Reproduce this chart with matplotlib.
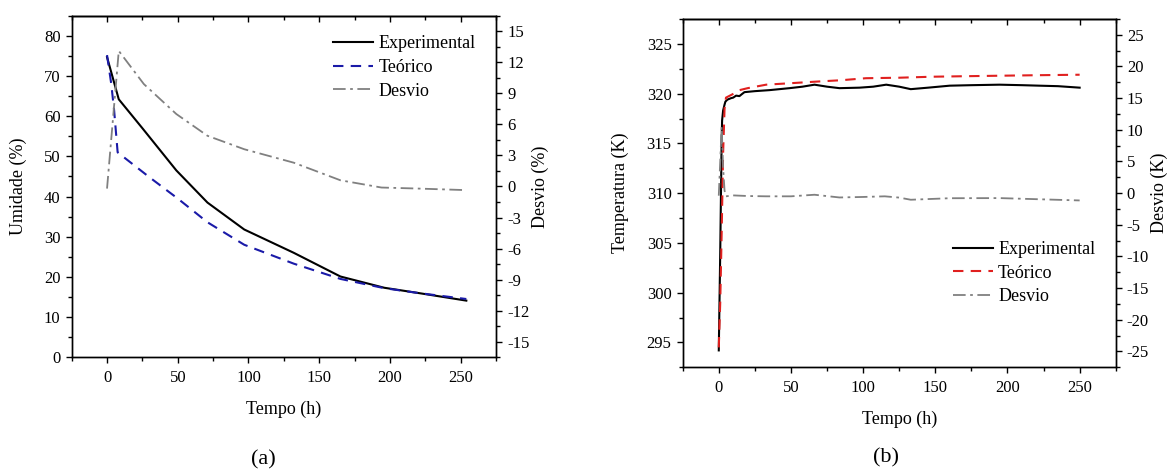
import matplotlib
matplotlib.use('Agg')
import matplotlib.pyplot as plt
from matplotlib.ticker import MultipleLocator, NullFormatter

plt.rcParams['font.family'] = ['Liberation Serif', 'DejaVu Serif']
plt.rcParams['axes.linewidth'] = 1.0
plt.rcParams['axes.unicode_minus'] = False

# (a) umidade
t_exp_a = [0, 8.3, 25, 49, 71, 97, 132, 165, 196, 220, 254]
u_exp = [74.7, 64.2, 57, 46.5, 38.5, 31.8, 26, 20.1, 17.3, 16, 14.1]
t_teo_a = [0, 3, 5, 7.5, 14, 30, 50, 71, 97, 132, 165, 196, 220, 254]
u_teo = [75.2, 68, 61.5, 51, 49.2, 44.8, 39.5, 33.6, 28, 23.3, 19.5, 17.2, 16, 14.5]
t_desv_a = [0, 8.3, 26, 49, 71, 97, 132, 165, 194, 220, 254]
d_a = [-0.2, 13.1, 9.9, 7.0, 4.9, 3.6, 2.3, 0.6, -0.1, -0.2, -0.35]

# (b) temperatura
t_exp_b = [0, 1, 2, 2.3, 3, 4, 4.6, 6, 8.6, 10, 12, 14.3, 16, 17.8, 25, 35, 49, 58, 66.3, 75, 83.6,
           97.5, 107, 116, 125, 133, 145, 160, 175, 194.5, 210, 222, 235, 250]
temp_exp = [294.2, 304, 315.5, 317.3, 318.3, 318.9, 319.2, 319.4, 319.55, 319.6, 319.8, 319.75, 319.95,
            320.15, 320.25, 320.35, 320.55, 320.7, 320.9, 320.7, 320.55, 320.6, 320.7, 320.9, 320.7,
            320.45, 320.6, 320.8, 320.85, 320.9, 320.85, 320.8, 320.75, 320.6]
t_teo_b = [0, 1, 2, 3, 4, 5, 9.7, 14.3, 20, 32.8, 50, 66.6, 85, 102, 125, 148, 170, 194.5, 220, 250]
temp_teo = [294.5, 299, 306, 314, 318.5, 319.6, 319.95, 320.35, 320.55, 320.9, 321.05, 321.2, 321.35,
            321.55, 321.6, 321.7, 321.75, 321.8, 321.85, 321.9]
t_desv_b = [0, 1, 2, 3, 4, 5, 9.7, 20, 32.8, 50, 66.3, 83.6, 100, 115, 125, 133, 160, 194.5, 220, 250]
d_b = [-0.4, 5, 10.5, 4, 0.4, -0.5, -0.35, -0.45, -0.5, -0.5, -0.25, -0.68, -0.6, -0.5, -0.7, -1.04,
       -0.8, -0.78, -0.95, -1.15]

fig = plt.figure(figsize=(11.71, 4.69), dpi=100)

tick_kw = dict(labelsize=12, width=1.0, pad=3.5)


def setup_axes(ax, ax2):
    ax.set_xlim(-25, 275)
    ax.xaxis.set_major_locator(MultipleLocator(50))
    ax.xaxis.set_minor_locator(MultipleLocator(25))
    ax.tick_params(axis='both', which='major', direction='out', length=4.5, **tick_kw)
    ax.tick_params(axis='both', which='minor', direction='out', length=3, width=1.0)
    ax.tick_params(axis='x', which='major', pad=4.5)
    ax2.tick_params(axis='y', which='major', direction='out', length=4.5, **tick_kw)
    ax2.tick_params(axis='y', which='minor', direction='out', length=3, width=1.0)
    # ticks pointing inward on the top spine
    sec = ax.secondary_xaxis('top')
    sec.xaxis.set_major_locator(MultipleLocator(50))
    sec.xaxis.set_minor_locator(MultipleLocator(25))
    sec.xaxis.set_major_formatter(NullFormatter())
    sec.tick_params(which='major', direction='in', length=4.5, width=1.0)
    sec.tick_params(which='minor', direction='in', length=3, width=1.0)
    ax.set_xlabel('Tempo (h)', fontsize=13, labelpad=11)


# ---- painel (a)
ax = fig.add_axes([0.0612, 0.2382, 0.3624, 0.7283])
ax2 = ax.twinx()
l1, = ax.plot(t_exp_a, u_exp, color='black', lw=1.5, label='Experimental')
l2, = ax.plot(t_teo_a, u_teo, color='#1a1aa8', lw=1.5, ls=(0, (5, 3.5)), label='Teórico')
l3, = ax2.plot(t_desv_a, d_a, color='#808080', lw=1.3, ls=(0, (7, 2.5, 1.5, 2.5)), label='Desvio')
ax.set_ylim(0, 85)
ax.yaxis.set_major_locator(MultipleLocator(10))
ax.yaxis.set_minor_locator(MultipleLocator(5))
ax2.set_ylim(-16.5, 16.5)
ax2.yaxis.set_major_locator(MultipleLocator(3))
ax2.yaxis.set_minor_locator(MultipleLocator(1.5))
setup_axes(ax, ax2)
ax.set_ylabel('Umidade (%)', fontsize=13)
ax.yaxis.set_label_coords(-0.105, 0.5)
ax2.set_ylabel('Desvio (%)', fontsize=13)
ax2.yaxis.set_label_coords(1.083, 0.5)
ax.legend(handles=[l1, l2, l3], loc='upper left', bbox_to_anchor=(0.616, 0.943), frameon=False,
          fontsize=13, handlelength=2.2, handletextpad=0.3, labelspacing=0.37, borderpad=0,
          borderaxespad=0)

# ---- painel (b)
bx = fig.add_axes([0.583, 0.2168, 0.3698, 0.7427])
bx2 = bx.twinx()
m1, = bx.plot(t_exp_b, temp_exp, color='black', lw=1.5, label='Experimental')
m2, = bx.plot(t_teo_b, temp_teo, color='#e0201f', lw=1.5, ls=(0, (5, 3.5)), label='Teórico')
m3, = bx2.plot(t_desv_b, d_b, color='#808080', lw=1.3, ls=(0, (7, 2.5, 1.5, 2.5)), label='Desvio')
bx.set_ylim(292.5, 327.5)
bx.yaxis.set_major_locator(MultipleLocator(5))
bx.yaxis.set_minor_locator(MultipleLocator(2.5))
bx2.set_ylim(-27.5, 27.5)
bx2.yaxis.set_major_locator(MultipleLocator(5))
bx2.yaxis.set_minor_locator(MultipleLocator(2.5))
setup_axes(bx, bx2)
bx.set_ylabel('Temperatura (K)', fontsize=13)
bx.yaxis.set_label_coords(-0.124, 0.5)
bx2.set_ylabel('Desvio (K)', fontsize=13)
bx2.yaxis.set_label_coords(1.08, 0.5)
bx.legend(handles=[m1, m2, m3], loc='upper left', bbox_to_anchor=(0.624, 0.363), frameon=False,
          fontsize=13, handlelength=2.2, handletextpad=0.3, labelspacing=0.37, borderpad=0,
          borderaxespad=0)

fig.text(0.2246, 0.019, '(a)', fontsize=16, ha='center', va='center')
fig.text(0.7566, 0.0235, '(b)', fontsize=16, ha='center', va='center')

fig.savefig('out.png', dpi=100)
